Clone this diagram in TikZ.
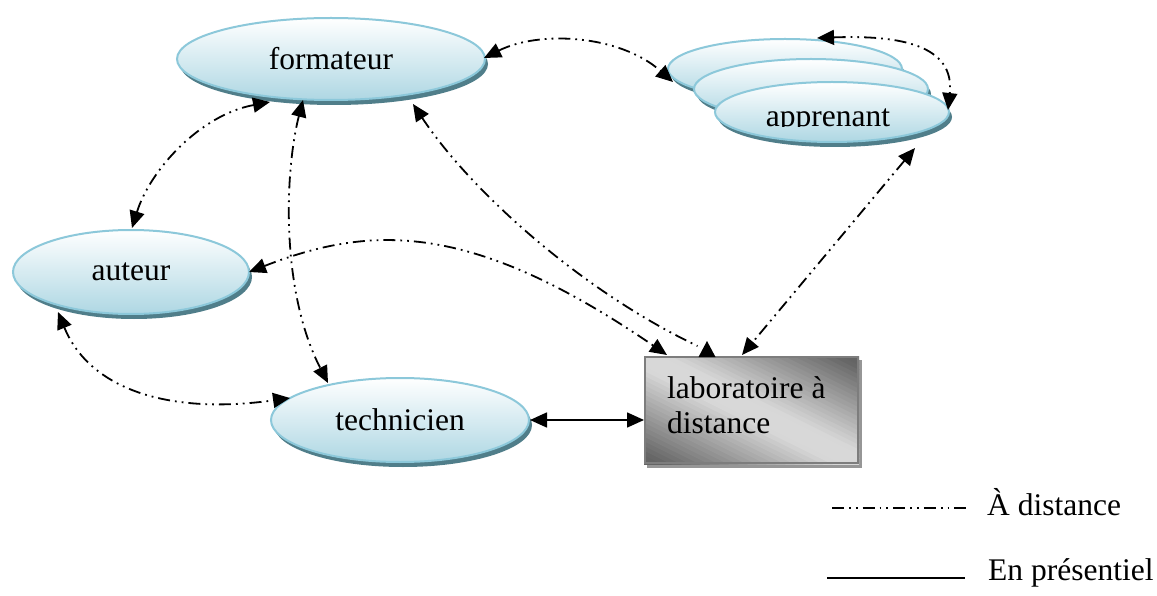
\documentclass[tikz,border=0pt]{standalone}
\usepackage{fontspec}
\setmainfont{Liberation Serif}
\usetikzlibrary{shapes.geometric,arrows.meta,calc,shadows}

\definecolor{ellborder}{RGB}{140,200,218}
\definecolor{ellbottom}{RGB}{174,215,227}
\definecolor{shadowteal}{RGB}{80,126,138}
\definecolor{labdark}{RGB}{100,100,100}
\definecolor{lablight}{RGB}{216,216,216}
\definecolor{labborder}{RGB}{125,125,125}
\definecolor{labshadow}{RGB}{150,150,150}

\newcommand\diagfont{\fontsize{31.5}{35}\selectfont}

\tikzset{
  role/.style={ellipse, draw=ellborder, line width=2pt, top color=white,
    bottom color=ellbottom, inner sep=0pt, font=\diagfont,
    general shadow={shadow xshift=3pt, shadow yshift=-5pt, fill=shadowteal}},
  labbox/.style={rectangle, fill=lablight, inner sep=0pt, outer sep=0pt,
    general shadow={shadow xshift=3pt, shadow yshift=-4pt, fill=labshadow}},
  >={Triangle[length=17pt,width=15pt]},
  remote/.style={line width=1.8pt,
    dash pattern=on 12pt off 5pt on 1.8pt off 5pt on 1.8pt off 5pt},
  local/.style={line width=1.6pt},
  legendtext/.style={font=\diagfont, inner sep=0pt, anchor=base west}
}

\begin{document}
\begin{tikzpicture}[x=1pt,y=-1pt]
\path[use as bounding box, fill=white] (0,0) rectangle (1157,596);

% actors
\node[role, minimum width=308pt, minimum height=82pt] (formateur) at (331,59) {formateur};
\node[role, minimum width=234pt, minimum height=60pt] (A1) at (785,69) {};
\node[role, minimum width=234pt, minimum height=60pt] (A2) at (811,89) {};
\node[role, minimum width=234pt, minimum height=60pt] (A3) at (832,112) {};
\begin{scope}
  \clip (700,80) rectangle (960,127);
  \node[font=\diagfont, inner sep=0pt, anchor=base] (apptext) at (828,127) {apprenant};
\end{scope}
\node[role, minimum width=236pt, minimum height=84pt] (auteur) at (131,272) {auteur};
\node[role, minimum width=258pt, minimum height=84pt] (technicien) at (400,420) {technicien};

% remote lab: grey box, light along its main diagonal, dark towards two corners
\node[labbox, minimum width=215pt, minimum height=108pt] (lab) at (751.5,410) {};
\begin{scope}
  \clip (lab.south west) rectangle (lab.north east);
  \foreach \i in {0,...,47}{
    \pgfmathsetmacro\s{-101+\i*4.2}
    \pgfmathsetmacro\t{\s+4.8}
    \pgfmathsetmacro\m{min(100,max(0,(abs(\s+2.1)-10)*100/78))}
    \fill[labdark!\m!lablight]
      ($(lab.center)+\s*(0.4456,-0.8953)+(-117,-58)$) --
      ($(lab.center)+\s*(0.4456,-0.8953)+(117,58)$) --
      ($(lab.center)+\t*(0.4456,-0.8953)+(117,58)$) --
      ($(lab.center)+\t*(0.4456,-0.8953)+(-117,-58)$) -- cycle;
  }
\end{scope}
\draw[labborder, line width=2pt] ($(lab.south west)+(1,-1)$) rectangle ($(lab.north east)+(-1,1)$);
\node[font=\diagfont, inner sep=0pt, anchor=north west, align=left] (labtext) at (667,376) {laboratoire à\\distance};

% remote links
\draw[remote, <->] ($(formateur)+(153,-1)$) .. controls ($(formateur)+(209,-29)$) and ($(A1)+(-165,-34)$) .. ($(A1)+(-112,13)$);
\draw[remote, <->] ($(A1)+(32,-31)$) .. controls ($(A1)+(115,-34)$) and ($(A3)+(123,-67)$) .. ($(A3)+(116,-2)$);
\draw[remote, <->] ($(formateur)+(-61,43)$) .. controls ($(formateur)+(-131,56)$) and ($(auteur)+(19,-102)$) .. ($(auteur)+(1,-44)$);
\draw[remote, <->] ($(formateur)+(-28,41)$) .. controls ($(formateur)+(-46,111)$) and ($(technicien)+(-120,-130)$) .. ($(technicien)+(-72,-37)$);
\draw[remote, <-] ($(formateur)+(82,45)$) .. controls ($(formateur)+(139,131)$) and ($(lab)+(-171.5,-120)$) .. ($(lab)+(-54,-64)$);
\fill ($(lab)+(-44.5,-69)$) -- ($(lab)+(-53,-53)$) -- ($(lab)+(-36,-53)$) -- cycle;
\draw[remote, <->] ($(auteur)+(118,0)$) .. controls ($(auteur)+(239,-47)$) and ($(lab)+(-281.5,-190)$) .. ($(lab)+(-84.5,-55)$);
\draw[remote, <->] ($(auteur)+(-73,40)$) .. controls ($(auteur)+(-41,118)$) and ($(technicien)+(-230,-5)$) .. ($(technicien)+(-110,-22)$);
\draw[remote, <->] ($(A3)+(83,36)$) -- ($(lab)+(-9.5,-55)$);

% on-site link
\draw[local, <->] (technicien.east) -- (technicien.east -| lab.west);

% legend
\coordinate (rd1) at (832,508);
\coordinate (rd2) at (970,508);
\draw[remote] (rd1) -- (rd2);
\node[legendtext] (rdtext) at (987,515) {À distance};
\coordinate (ld1) at (827,578);
\coordinate (ld2) at (965,578);
\draw[local] (ld1) -- (ld2);
\node[legendtext] (ldtext) at (988,580) {En présentiel};
\end{tikzpicture}
\end{document}
